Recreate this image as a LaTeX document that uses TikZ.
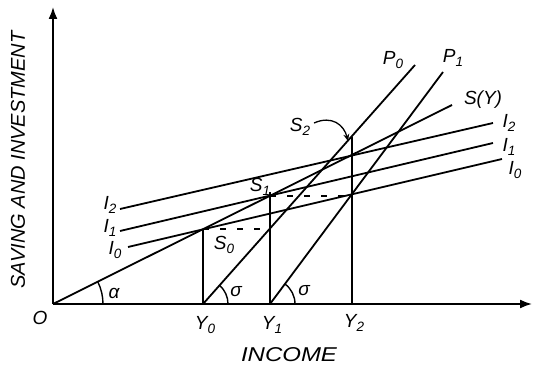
\documentclass[tikz,border=0pt]{standalone}
\usepackage{fontspec}
\setmainfont{Liberation Sans}
\usetikzlibrary{arrows.meta}
\newcommand{\lsub}[1]{\raisebox{-0.45ex}{\fontsize{13.5}{15}\selectfont #1}}
\begin{document}
\begin{tikzpicture}[x=1pt,y=1pt, line width=1.8pt,
  lab/.style={font=\fontsize{19}{22}\selectfont\itshape, inner sep=0pt},
  ttl/.style={font=\fontsize{20}{23}\selectfont\itshape, inner sep=0pt},
  axisarrow/.style={-{Latex[length=12pt,width=9pt]}},
  guide/.style={dash pattern=on 6pt off 11pt, line width=1.5pt}]
\useasboundingbox (0,0) rectangle (533,370);
% coordinates
\coordinate (O) at (53,66);
\coordinate (Ytop) at (53,363);
\coordinate (Xend) at (532,66);
\coordinate (Y0) at (203,66);
\coordinate (Y1) at (270,66);
\coordinate (Y2) at (352,66);
\coordinate (SYend) at (452,265);
\coordinate (S0) at (203,140.8);
\coordinate (S1) at (270,174.2);
\coordinate (S1d) at (352,174.2);
\coordinate (S0d) at (270,140.8);
\coordinate (Y1top) at (270,178);
\coordinate (Y2top) at (352,233);
\coordinate (S2tip) at (348,229);
\coordinate (P0end) at (415,305);
\coordinate (P1end) at (443,298);
\coordinate (I2a) at (120,161);
\coordinate (I2b) at (493,247);
\coordinate (I1a) at (120,139);
\coordinate (I1b) at (493,227);
\coordinate (I0a) at (128,123);
\coordinate (I0b) at (502,211);
% axes
\draw[axisarrow] (O) -- (Ytop);
\draw[axisarrow] (O) -- (Xend);
% lines
\draw (O) -- (SYend);
\draw (Y0) -- (P0end);
\draw (Y1) -- (P1end);
\draw (I2a) -- (I2b);
\draw (I1a) -- (I1b);
\draw (I0a) -- (I0b);
% verticals
\draw (Y0) -- (S0);
\draw (Y1) -- (Y1top);
\draw (Y2) -- (Y2top);
% dashed guides
\draw[guide] (S0) -- (S0d);
\draw[guide] (S1) -- (S1d);
% angle arcs
\draw[line width=1.4pt] ([shift={(50,0)}]O) arc[start angle=0, end angle=26.5, radius=50];
\draw[line width=1.4pt] ([shift={(25,0)}]Y0) arc[start angle=0, end angle=48.4, radius=25];
\draw[line width=1.4pt] ([shift={(25,0)}]Y1) arc[start angle=0, end angle=53.3, radius=25];
% labels
\node[lab] (lO) at (40,52) {O};
\node[lab] (lY0) at (205,45) {Y\lsub{0}};
\node[lab] (lY1) at (272,45) {Y\lsub{1}};
\node[lab] (lY2) at (354,47) {Y\lsub{2}};
\node[lab] (lal) at (114,77) {α};
\node[lab] (lsg0) at (236,78) {σ};
\node[lab] (lsg1) at (304,79) {σ};
\node[lab] (lS0) at (224,125) {S\lsub{0}};
\node[lab] (lS1) at (260,183) {S\lsub{1}};
\node[lab] (lS2) at (300,243) {S\lsub{2}};
\node[lab] (lP0) at (393,310) {P\lsub{0}};
\node[lab] (lP1) at (453,312) {P\lsub{1}};
\node[lab] (lSY) at (483,270) {S(Y)};
\node[lab] (lI2r) at (509,247) {I\lsub{2}};
\node[lab] (lI1r) at (509,223) {I\lsub{1}};
\node[lab] (lI0r) at (515,200) {I\lsub{0}};
\node[lab] (lI2l) at (110,165) {I\lsub{2}};
\node[lab] (lI1l) at (110,142) {I\lsub{1}};
\node[lab] (lI0l) at (115,120) {I\lsub{0}};
\node[ttl, xscale=1.2] (income) at (289,15) {INCOME};
\node[ttl, rotate=90] (yttl) at (18,210) {SAVING AND INVESTMENT};
% S2 arrow
\draw[-{Stealth[length=7pt,width=6pt]}, line width=1.3pt] ([xshift=3pt,yshift=4pt]lS2.east) .. controls +(18,8) and +(-4,16) .. (S2tip);
\end{tikzpicture}
\end{document}
